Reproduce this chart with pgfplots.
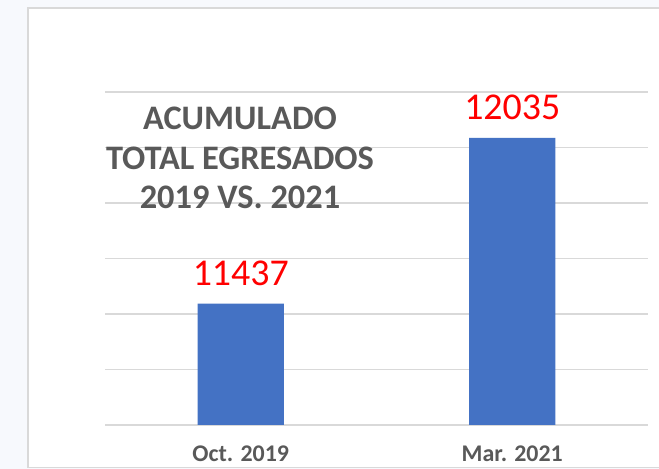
\documentclass[border=0pt]{standalone}
\usepackage{pgfplots}
\pgfplotsset{compat=1.18}
\usepackage{fontspec}
\setmainfont{Carlito}
\definecolor{bgout}{HTML}{F7F9FD}
\definecolor{framegrey}{HTML}{D9D9D9}
\definecolor{gridgrey}{HTML}{D9D9D9}
\definecolor{barblue}{HTML}{4472C4}
\definecolor{txtgrey}{HTML}{595959}
\begin{document}
\begin{tikzpicture}[x=1bp,y=1bp]
\clip (0,0) rectangle (659,469);
\fill[bgout] (0,0) rectangle (659,469);
\filldraw[fill=white,draw=framegrey,line width=1.5bp] (28,1.5) rectangle (680,461);
\begin{axis}[
  at={(105bp,44bp)}, anchor=south west,
  scale only axis, width=543bp, height=333bp,
  xmin=-0.5, xmax=1.5, ymin=11000, ymax=12200,
  scaled y ticks=false,
  ytick={11000,11200,...,12200}, yticklabels={},
  xtick={0,1}, xticklabels={Oct. 2019, Mar. 2021},
  xticklabel style={font=\fontsize{24}{24}\selectfont\bfseries, text=txtgrey, yshift=-17bp},
  axis line style={draw=none}, tick style={draw=none},
  ymajorgrids, grid style={draw=gridgrey, line width=1.5bp},
  clip=false,
  nodes near coords,
  /pgf/number format/assume math mode=true,
  /pgf/number format/1000 sep={},
  every node near coord/.append style={font=\fontsize{38}{38}\selectfont, text=red, yshift=14bp},
]
\addplot[ybar, bar width=0.317, fill=barblue, draw=none] coordinates {(0,11437) (1,12035)};
\end{axis}
\node[align=center, font=\fontsize{34.5}{40}\selectfont\bfseries, text=txtgrey] at (240,311) {ACUMULADO\\TOTAL EGRESADOS\\2019 VS. 2021};
\end{tikzpicture}
\end{document}
